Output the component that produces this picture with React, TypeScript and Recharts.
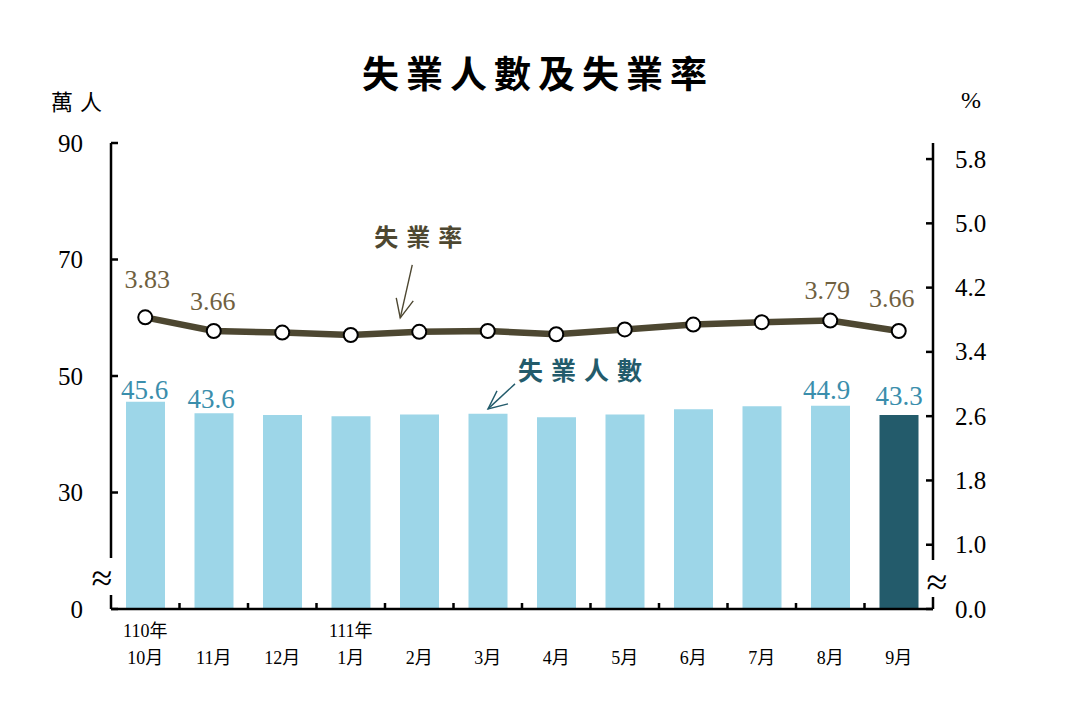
import React from 'react';
import { ComposedChart, Bar, Line, XAxis, YAxis, LabelList, Cell } from 'recharts';

// ---- data ----
const months = ['10月', '11月', '12月', '1月', '2月', '3月', '4月', '5月', '6月', '7月', '8月', '9月'];
const yearLabels = ['110年', '', '', '111年', '', '', '', '', '', '', '', ''];
const unemployed = [45.6, 43.6, 43.3, 43.1, 43.4, 43.5, 42.9, 43.4, 44.3, 44.8, 44.9, 43.3];
const rate = [3.83, 3.66, 3.64, 3.61, 3.65, 3.66, 3.62, 3.68, 3.74, 3.77, 3.79, 3.66];
const leftTicks = [10, 30, 50, 70, 90];
const leftTickLabels = ['0', '30', '50', '70', '90'];
const rightTicks = [0.2, 1.0, 1.8, 2.6, 3.4, 4.2, 5.0, 5.8];
const rightTickLabels = ['0.0', '1.0', '1.8', '2.6', '3.4', '4.2', '5.0', '5.8'];
const labeledIdx = [0, 1, 10, 11];
const rateNoteIdx = 4;
const countNoteIdx = 5;

const data = months.map((m, i) => ({ month: m, year: yearLabels[i], count: unemployed[i], rate: rate[i] }));

// ---- layout / style ----
const W = 1078;
const H = 722;
const PLOT_L = 111;
const PLOT_R = 933;
const PLOT_T = 143;
const PLOT_B = 609;
const AXW = 60;
const XAH = 60;
const BAND = (PLOT_R - PLOT_L) / months.length;
const PLOT_H = PLOT_B - PLOT_T;

const SERIF = "'Liberation Serif', 'Times New Roman', 'Noto Sans CJK TC', serif";
const CJK = "'Noto Sans CJK TC', 'Noto Sans CJK SC', sans-serif";
const LIGHT = '#9DD6E8';
const DARK = '#235B6B';
const LINE = '#4D4731';
const BAR_LABEL = '#3A8EAC';
const RATE_LABEL = '#6F6040';

// axis-break gaps (pixel distances from top of plot)
const leftGapTop = 558 - PLOT_T;
const leftGapLen = 37;
const rightGapTop = 560 - PLOT_T;
const rightGapLen = 37;

const rateOffsets: Record<number, [number, number]> = { 0: [2, -38], 1: [-1, -30], 10: [-3, -30], 11: [-7, -33] };
const barOffsets: Record<number, [number, number]> = { 0: [-1, -12], 1: [-3, -14], 10: [-4, -16], 11: [0, -19] };

const idxFromX = (cx: number) => Math.round((cx - PLOT_L) / BAND - 0.5);

const XTick = (props: any) => {
  const { x, y, payload } = props;
  const i = typeof props.index === 'number' ? props.index : idxFromX(x);
  const yr = yearLabels[i];
  return (
    <g>
      {i < months.length - 1 && (
        <line x1={x + BAND / 2} x2={x + BAND / 2} y1={y} y2={y - 6} stroke="#000" strokeWidth={2.5} />
      )}
      {yr ? (
        <text x={x} y={y + 22} textAnchor="middle" dominantBaseline="central" fontFamily={SERIF} fontSize={18} fill="#000">
          {yr}
        </text>
      ) : null}
      <text x={x} y={y + 49} textAnchor="middle" dominantBaseline="central" fontFamily={SERIF} fontSize={18} fill="#000">
        {payload.value}
      </text>
    </g>
  );
};

const LeftTick = (props: any) => {
  const { x, y, payload } = props;
  const k = leftTicks.indexOf(payload.value);
  return (
    <g>
      <line x1={x} x2={x + 7} y1={y} y2={y} stroke="#000" strokeWidth={2.5} />
      <text x={x - 28} y={y} textAnchor="end" dominantBaseline="central" fontFamily={SERIF} fontSize={25} fill="#000">
        {leftTickLabels[k]}
      </text>
      {k === 0 && (
        <text x={x - 9} y={y - 31} textAnchor="middle" dominantBaseline="central" fontFamily={SERIF} fontSize={38} fill="#000">
          ≈
        </text>
      )}
    </g>
  );
};

const RightTick = (props: any) => {
  const { x, y, payload } = props;
  const k = rightTicks.indexOf(payload.value);
  return (
    <g>
      <line x1={x} x2={x - 7} y1={y} y2={y} stroke="#000" strokeWidth={2.5} />
      <text x={x + 22} y={y} textAnchor="start" dominantBaseline="central" fontFamily={SERIF} fontSize={25} fill="#000">
        {rightTickLabels[k]}
      </text>
      {k === 0 && (
        <text x={x + 4} y={y - 27} textAnchor="middle" dominantBaseline="central" fontFamily={SERIF} fontSize={38} fill="#000">
          ≈
        </text>
      )}
    </g>
  );
};

const RateLabel = (props: any) => {
  const vb = props.viewBox || {};
  const x = typeof vb.x === 'number' ? vb.x : props.x;
  const y = typeof vb.y === 'number' ? vb.y : props.y;
  if (typeof x !== 'number' || typeof y !== 'number') return null;
  const i = typeof props.index === 'number' ? props.index : idxFromX(x);
  const parts: any[] = [];
  if (labeledIdx.includes(i)) {
    const [dx, dy] = rateOffsets[i] || [0, -32];
    parts.push(
      <text key="v" x={x + dx} y={y + dy} textAnchor="middle" dominantBaseline="central" fontFamily={SERIF} fontSize={26} fill={RATE_LABEL}>
        {rate[i].toFixed(2)}
      </text>
    );
  }
  if (i === rateNoteIdx) {
    const tip = [x - 19, y - 14];
    parts.push(
      <g key="n">
        <text x={x + 3} y={y - 96} textAnchor="middle" dominantBaseline="central" fontFamily={CJK} fontWeight={700} fontSize={24} letterSpacing={8} fill={LINE}>
          失業率
        </text>
        <line x1={x - 7} y1={y - 67} x2={tip[0]} y2={tip[1]} stroke={LINE} strokeWidth={1.4} />
        <polyline points={`${x - 23},${y - 34} ${tip[0]},${tip[1]} ${x - 6},${y - 31}`} fill="none" stroke={LINE} strokeWidth={1.4} />
      </g>
    );
  }
  return <g>{parts}</g>;
};

const BarLabel = (props: any) => {
  const vb = props.viewBox || {};
  const bx = typeof vb.x === 'number' ? vb.x : props.x;
  const by = typeof vb.y === 'number' ? vb.y : props.y;
  const bw = typeof vb.width === 'number' ? vb.width : props.width || 0;
  if (typeof bx !== 'number' || typeof by !== 'number') return null;
  const x = bx + bw / 2;
  const y = by;
  const i = typeof props.index === 'number' ? props.index : idxFromX(x);
  const parts: any[] = [];
  if (labeledIdx.includes(i)) {
    const [dx, dy] = barOffsets[i] || [0, -15];
    parts.push(
      <text key="v" x={x + dx} y={y + dy} textAnchor="middle" dominantBaseline="central" fontFamily={SERIF} fontSize={27} fill={BAR_LABEL}>
        {unemployed[i].toFixed(1)}
      </text>
    );
  }
  if (i === countNoteIdx) {
    parts.push(
      <g key="n">
        <text x={x + 96} y={y - 45} textAnchor="middle" dominantBaseline="central" fontFamily={CJK} fontWeight={700} fontSize={25} letterSpacing={8} fill={DARK}>
          失業人數
        </text>
        <line x1={x + 27} y1={y - 30} x2={x} y2={y - 5} stroke={DARK} strokeWidth={1.4} />
        <polyline points={`${x + 9},${y - 23} ${x},${y - 5} ${x + 20},${y - 10}`} fill="none" stroke={DARK} strokeWidth={1.4} />
      </g>
    );
  }
  return <g>{parts}</g>;
};

export default function App() {
  return (
    <div style={{ position: 'absolute', left: 0, top: 0, width: W, height: H, background: '#fff' }}>
      <ComposedChart
        width={W}
        height={H}
        data={data}
        margin={{ top: PLOT_T, right: W - PLOT_R - AXW, bottom: H - PLOT_B - XAH, left: PLOT_L - AXW }}
      >
        <XAxis
          dataKey="month"
          xAxisId="x"
          interval={0}
          height={XAH}
          tickSize={0}
          tickMargin={0}
          tickLine={false}
          axisLine={{ stroke: '#000', strokeWidth: 2.5 }}
          tick={(p: any) => <XTick {...p} />}
        />
        <YAxis
          yAxisId="left"
          orientation="left"
          width={AXW}
          domain={[10, 90]}
          ticks={leftTicks}
          interval={0}
          allowDataOverflow
          tickSize={0}
          tickMargin={0}
          tickLine={false}
          axisLine={{
            stroke: '#000',
            strokeWidth: 2.5,
            strokeDasharray: `${leftGapTop} ${leftGapLen} ${PLOT_H - leftGapTop - leftGapLen}`,
          }}
          tick={(p: any) => <LeftTick {...p} />}
        />
        <YAxis
          yAxisId="right"
          orientation="right"
          width={AXW}
          domain={[0.2, 6.0]}
          ticks={rightTicks}
          interval={0}
          allowDataOverflow
          tickSize={0}
          tickMargin={0}
          tickLine={false}
          axisLine={{
            stroke: '#000',
            strokeWidth: 2.5,
            strokeDasharray: `${rightGapTop} ${rightGapLen} ${PLOT_H - rightGapTop - rightGapLen}`,
          }}
          tick={(p: any) => <RightTick {...p} />}
        />
        <Bar dataKey="count" xAxisId="x" yAxisId="left" barSize={39} isAnimationActive={false}>
          {data.map((d, i) => (
            <Cell key={d.month} fill={i === data.length - 1 ? DARK : LIGHT} />
          ))}
          <LabelList dataKey="count" content={(p: any) => <BarLabel {...p} />} />
        </Bar>
        <Line
          dataKey="rate"
          xAxisId="x"
          yAxisId="right"
          type="linear"
          stroke={LINE}
          strokeWidth={6.5}
          dot={{ r: 7, fill: '#fff', stroke: '#000', strokeWidth: 2 }}
          activeDot={false}
          isAnimationActive={false}
        >
          <LabelList dataKey="rate" content={(p: any) => <RateLabel {...p} />} />
        </Line>
      </ComposedChart>
      <svg width={W} height={H} style={{ position: 'absolute', left: 0, top: 0, pointerEvents: 'none' }}>
        <text x={538} y={72} textAnchor="middle" dominantBaseline="central" fontFamily={CJK} fontWeight={700} fontSize={37} letterSpacing={7} fill="#000">
          失業人數及失業率
        </text>
        <text x={80} y={100} textAnchor="middle" dominantBaseline="central" fontFamily={CJK} fontSize={22} letterSpacing={7} fill="#000">
          萬人
        </text>
        <text x={971} y={100} textAnchor="middle" dominantBaseline="central" fontFamily={SERIF} fontSize={24} fill="#000">
          %
        </text>
      </svg>
    </div>
  );
}
